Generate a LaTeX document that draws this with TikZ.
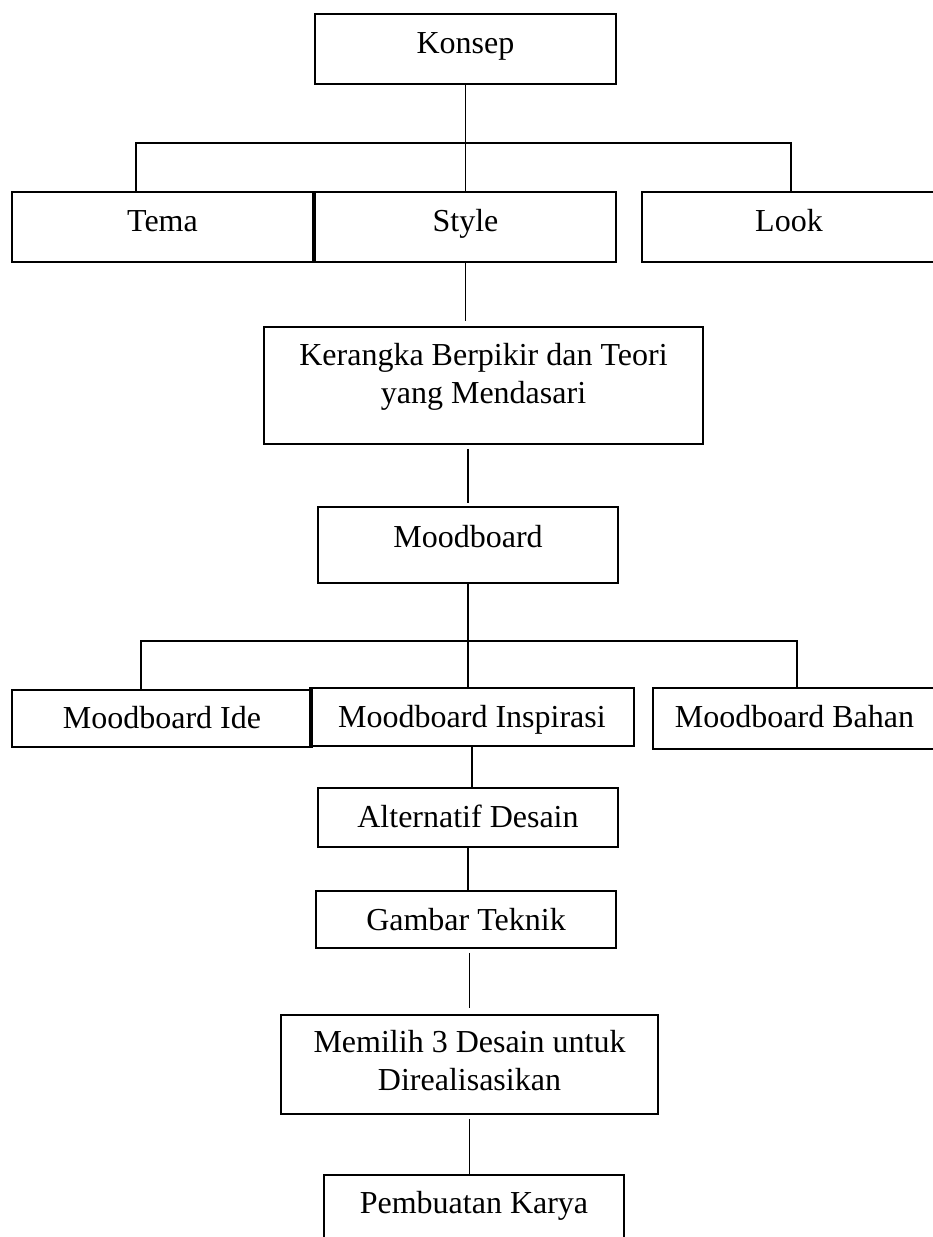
\documentclass[tikz,border=0pt]{standalone}
\usepackage{fontspec}
\setmainfont{Liberation Serif}

\tikzset{
  kotak/.style={draw, line width=0.9pt, inner sep=0pt, anchor=north, align=flush center,
    font=\fontsize{16}{18.8}\selectfont, text height=20pt},
  garis/.style={line width=0.8pt}
}

\begin{document}
\begin{tikzpicture}[x=0.5pt, y=-0.5pt]
  \useasboundingbox (0,0) rectangle (932,1237);

  \node[kotak, text width=150.5pt, text depth=15pt] (konsep) at (465.5,13) {Konsep};
  \node[kotak, text width=150.5pt, text depth=15pt] (tema) at (162.5,191) {Tema};
  \node[kotak, text width=150.5pt, text depth=15pt] (style) at (465.5,191) {Style};
  \node[kotak, text width=147pt, text depth=15pt] (look) at (789,191) {Look};
  \node[kotak, text width=219.5pt, text height=19.5pt, text depth=39pt] (kerangka) at (483.5,326)
    {Kerangka Berpikir dan Teori\\yang Mendasari};
  \node[kotak, text width=150pt, text height=20.5pt, text depth=17.5pt] (moodboard) at (468,506) {Moodboard};
  \node[kotak, text width=150pt, text height=19.5pt, text depth=9pt] (ide) at (162,689) {Moodboard Ide};
  \node[kotak, text width=162pt, text depth=9pt] (insp) at (472,687) {Moodboard Inspirasi};
  \node[kotak, text width=141.5pt, text depth=10.5pt] (bahan) at (794.5,687) {Moodboard Bahan};
  \node[kotak, text width=150pt, text depth=9.5pt] (alternatif) at (468,787) {Alternatif Desain};
  \node[kotak, text width=150pt, text depth=8.5pt] (gambar) at (466,890) {Gambar Teknik};
  \node[kotak, text width=188.5pt, text height=19pt, text depth=30.5pt] (memilih) at (469.5,1014)
    {Memilih 3 Desain untuk\\Direalisasikan};
  \node[kotak, text width=150pt, text height=19.5pt, text depth=40pt] (pembuatan) at (474,1174) {Pembuatan Karya};

  \coordinate (kiri1) at (136,143);
  \coordinate (kanan1) at (791,143);
  \draw[garis] (konsep.south) -- (konsep.south |- kiri1);
  \draw[garis] (kiri1 |- tema.north) -- (kiri1) -- (kanan1) -- (kanan1 |- look.north);
  \draw[garis] (konsep.south |- kiri1) -- (style.north);
  \draw[garis, shorten >=2.5pt] (style.south) -- (style.south |- kerangka.north);
  \draw[garis, shorten <=2pt, shorten >=1.5pt] (moodboard.north |- kerangka.south) -- (moodboard.north);

  \coordinate (kiri2) at (141,641);
  \coordinate (kanan2) at (797,641);
  \draw[garis] (moodboard.south) -- (moodboard.south |- kiri2);
  \draw[garis] (kiri2 |- ide.north) -- (kiri2) -- (kanan2) -- (kanan2 |- bahan.north);
  \draw[garis] (moodboard.south |- kiri2) -- (moodboard.south |- insp.north);
  \draw[garis] (insp.south) -- (insp.south |- alternatif.north);
  \draw[garis] (alternatif.south) -- (alternatif.south |- gambar.north);
  \draw[garis, shorten <=2pt, shorten >=3pt] (memilih.north |- gambar.south) -- (memilih.north);
  \draw[garis, shorten <=2pt] (memilih.south) -- (memilih.south |- pembuatan.north);
\end{tikzpicture}
\end{document}
